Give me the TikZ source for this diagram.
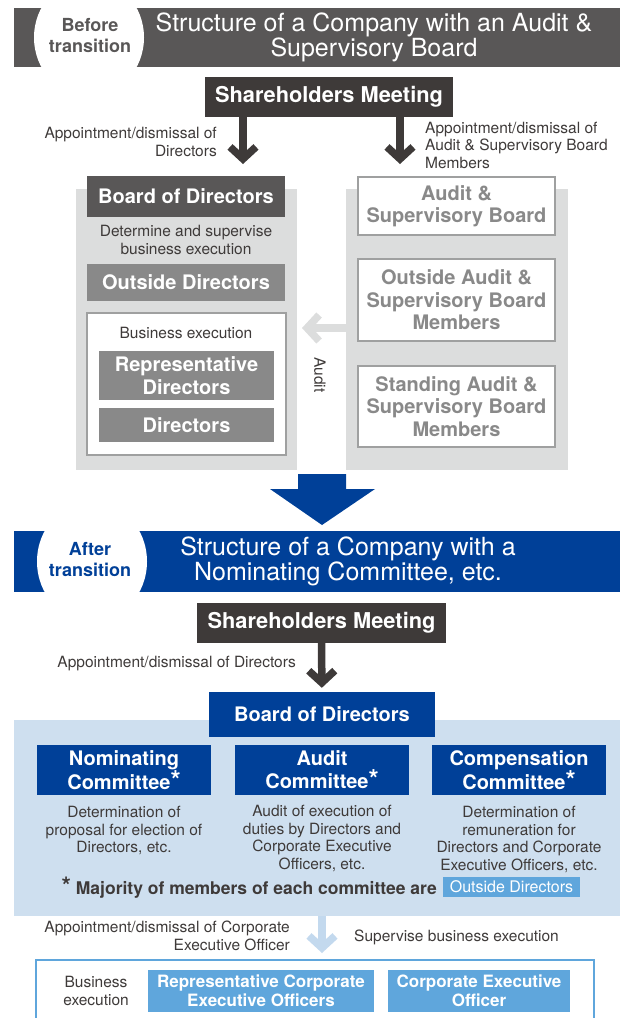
\documentclass[tikz,border=0pt]{standalone}
\usepackage{fontspec}
\setmainfont{TeX Gyre Heros}
\usetikzlibrary{arrows.meta,positioning}
\definecolor{bandgray}{HTML}{595757}
\definecolor{smgray}{HTML}{3E3A39}
\definecolor{midgray}{HTML}{898989}
\definecolor{panelgray}{HTML}{DCDDDD}
\definecolor{linegray}{HTML}{9FA0A0}
\definecolor{corpblue}{HTML}{004098}
\definecolor{paleblue}{HTML}{CEDFEF}
\definecolor{skyblue}{HTML}{5FA6DC}
\definecolor{arrowblue}{HTML}{C3D9EE}
\newcommand\notefont{\fontsize{15.5}{17.5}\selectfont}
\newcommand\boxfont{\fontsize{20}{22.5}\selectfont\bfseries}
\newcommand\bigstar{{\fontsize{26}{20}\selectfont*}}
\begin{document}
\begin{tikzpicture}[x=1pt,y=-1pt,
  box/.style={inner sep=0pt, align=center, font=\boxfont, text=white},
  greybox/.style={box, fill=white, draw=linegray, line width=1.5pt, text=midgray, minimum width=197pt},
  note/.style={inner sep=0pt, font=\notefont, text=smgray},
  panel/.style={inner sep=0pt},
  darrow/.style={draw=smgray, line width=7.5pt, -{Straight Barb[length=12pt,width=26pt]}},
  garrow/.style={darrow, draw=panelgray},
  barrow/.style={darrow, draw=arrowblue}]
\useasboundingbox (0,0) rectangle (620,1018);

% before transition
\fill[bandgray] (14,8) rectangle (620,67);
\begin{scope}
  \clip (14,8) rectangle (620,67);
  \fill[white] (89,37.5) ellipse [x radius=55pt, y radius=59pt];
\end{scope}
\node[box, text=bandgray, font=\fontsize{18}{21}\selectfont\bfseries] (before) at (90,36) {Before\\transition};
\node[box, font=\fontsize{25}{24}\selectfont] (title1) at (374,37) {Structure of a Company with an Audit \&\\Supervisory Board};

\node[box, fill=smgray, minimum width=248pt, minimum height=40pt, font=\fontsize{21.8}{24}\selectfont\bfseries] (sm1) at (329,97) {Shareholders Meeting};
\coordinate (dirend) at (243,164);
\coordinate (asbend) at (400,164);
\draw[darrow] (sm1.south -| dirend) -- (dirend);
\draw[darrow] (sm1.south -| asbend) -- (asbend);
\node[note, anchor=east, align=right] (apl) at (217,142) {Appointment/dismissal of\\Directors};
\node[note, anchor=west, align=left] (apr) at (425,145) {Appointment/dismissal of\\Audit \& Supervisory Board\\Members};

\node[panel, fill=panelgray, minimum width=221pt, minimum height=281pt] (lpanel) at (186.5,329.5) {};
\node[panel, fill=panelgray, minimum width=222pt, minimum height=281pt] (rpanel) at (457,329.5) {};

\node[box, fill=bandgray, minimum width=198pt, minimum height=41pt] (bod1) at (186,196.5) {Board of Directors};
\node[note, align=center] (det1) at (186,240) {Determine and supervise\\business execution};
\node[box, fill=midgray, minimum width=198pt, minimum height=37pt] (od1) at (186,282.5) {Outside Directors};
\node[panel, fill=white, draw=linegray, line width=1.2pt, minimum width=199pt, minimum height=142pt] (exec1) at (186.5,384) {};
\node[note] (bex1) at (186,333) {Business execution};
\node[box, fill=midgray, minimum width=175pt, minimum height=49pt, font=\fontsize{20}{23}\selectfont\bfseries] (rd1) at (186.5,375.5) {Representative\\Directors};
\node[box, fill=midgray, minimum width=175pt, minimum height=34pt] (dir1) at (186.5,425) {Directors};

\node[greybox, minimum height=58pt] (asb) at (456.5,206) {Audit \&\\Supervisory Board};
\node[greybox, minimum height=82pt] (oasb) at (456.5,300) {Outside Audit \&\\Supervisory Board\\Members};
\node[greybox, minimum height=81pt] (sasb) at (456.5,406.5) {Standing Audit \&\\Supervisory Board\\Members};

\coordinate (auditend) at (302,328);
\draw[garrow] (rpanel.west |- auditend) -- (auditend);
\node[note, rotate=-90] (auditlbl) at (320,375) {Audit};

% transition arrow
\fill[corpblue] (298,474) -- (346,474) -- (346,489) -- (375,489) -- (322,525) -- (270,489) -- (298,489) -- cycle;

% after transition
\fill[corpblue] (14,531) rectangle (620,592);
\begin{scope}
  \clip (14,531) rectangle (620,592);
  \fill[white] (92,561.5) ellipse [x radius=55pt, y radius=60pt];
\end{scope}
\node[box, text=corpblue, font=\fontsize{18}{21}\selectfont\bfseries] (after) at (90,560) {After\\transition};
\node[box, font=\fontsize{25}{24}\selectfont] (title2) at (348,561) {Structure of a Company with a\\Nominating Committee, etc.};

\node[box, fill=smgray, minimum width=249pt, minimum height=40pt, font=\fontsize{21.8}{24}\selectfont\bfseries] (sm2) at (321.5,623) {Shareholders Meeting};
\node[note, anchor=east] (apd) at (296,664) {Appointment/dismissal of Directors};

\node[panel, fill=paleblue, minimum width=606pt, minimum height=196pt] (bpanel) at (317,818) {};
\node[box, fill=corpblue, minimum width=226pt, minimum height=45pt] (bod2) at (322,714.5) {Board of Directors};
\draw[darrow, shorten >=4pt] (sm2) -- (bod2);

\node[box, fill=corpblue, minimum width=174pt, minimum height=50pt, font=\fontsize{20}{23}\selectfont\bfseries] (nom) at (124,770) {Nominating\\Committee\bigstar};
\node[box, fill=corpblue, minimum width=174pt, minimum height=50pt, font=\fontsize{20}{23}\selectfont\bfseries] (aud) at (322,770) {Audit\\Committee\bigstar};
\node[box, fill=corpblue, minimum width=174pt, minimum height=50pt, font=\fontsize{20}{23}\selectfont\bfseries] (comp) at (519,770) {Compensation\\Committee\bigstar};

\node[note, align=center, anchor=north] (nomd) at (124,806) {Determination of\\proposal for election of\\Directors, etc.};
\node[note, align=center, anchor=north] (audd) at (322,805) {Audit of execution of\\duties by Directors and\\Corporate Executive\\Officers, etc.};
\node[note, align=center, anchor=north] (compd) at (519,806) {Determination of\\remuneration for\\Directors and Corporate\\Executive Officers, etc.};

\node[box, fill=skyblue, minimum width=137pt, minimum height=20pt, font=\fontsize{16}{18}\selectfont] (od2) at (511.5,887) {Outside Directors};
\node[note, anchor=east, font=\fontsize{17.5}{19}\selectfont\bfseries] (major) at (437,888) {{\fontsize{24}{19}\selectfont*} Majority of members of each committee are};

\coordinate (ceoend) at (322,953);
\draw[barrow] (bpanel.south -| ceoend) -- (ceoend);
\node[note, anchor=east, align=right] (apc) at (290,936) {Appointment/dismissal of Corporate\\Executive Officer};
\node[note, anchor=west] (sup) at (354,937) {Supervise business execution};

\node[panel, fill=white, draw=skyblue, line width=1.5pt, minimum width=558pt, minimum height=80pt] (exec2) at (315,1000) {};
\node[note, align=center] (bex2) at (96,991) {Business\\execution};
\node[box, fill=skyblue, minimum width=226pt, minimum height=42pt, font=\fontsize{17}{18.5}\selectfont\bfseries] (rceo) at (261,991) {Representative Corporate\\Executive Officers};
\node[box, fill=skyblue, minimum width=182pt, minimum height=42pt, font=\fontsize{17}{18.5}\selectfont\bfseries] (ceo) at (479,991) {Corporate Executive\\Officer};
\end{tikzpicture}
\end{document}
